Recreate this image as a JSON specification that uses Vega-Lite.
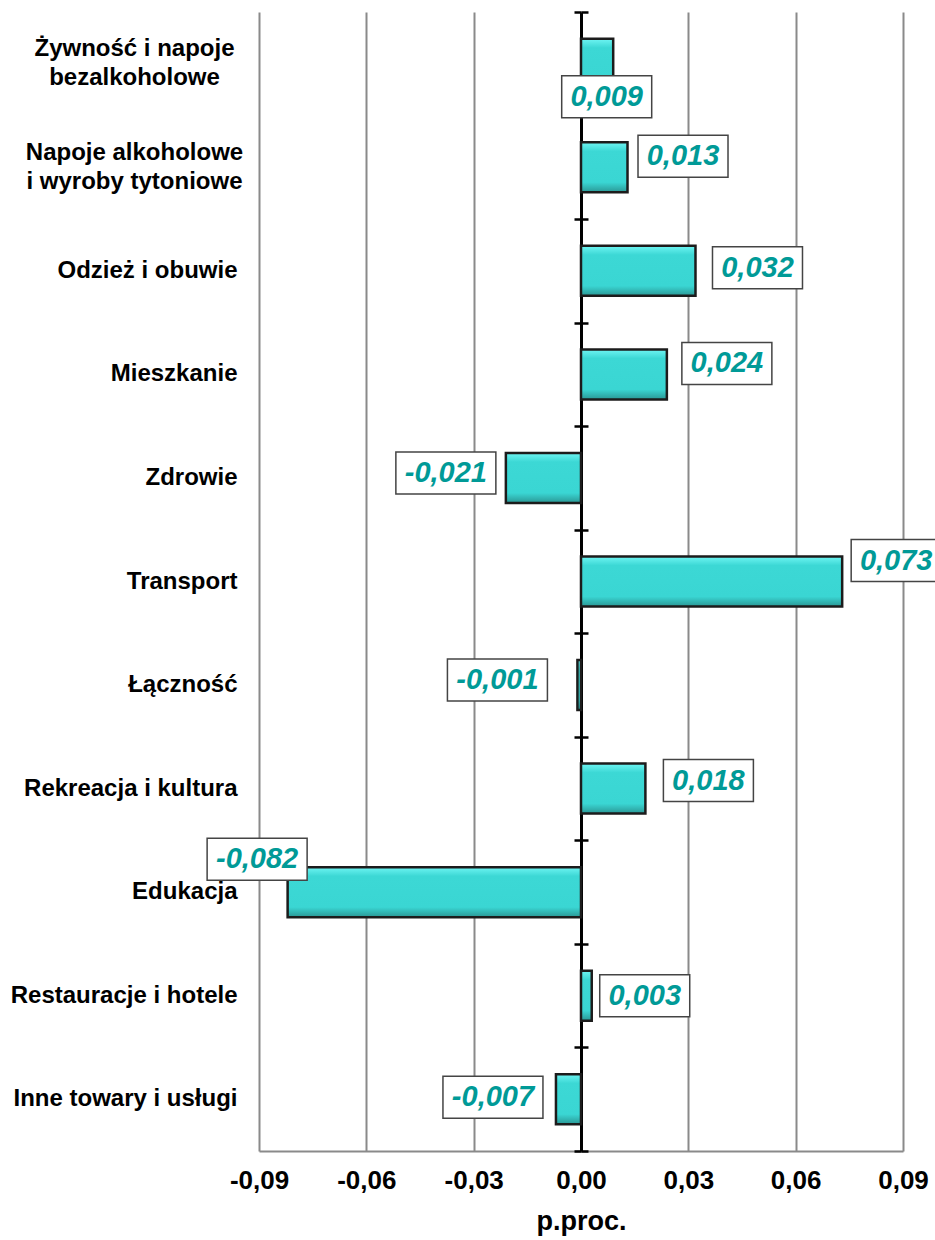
{
  "$schema": "https://vega.github.io/schema/vega-lite/v6.json",
  "width": 644,
  "height": 1139,
  "autosize": "none",
  "padding": {"left": 259, "top": 12, "right": 32, "bottom": 89},
  "background": "white",
  "config": {
    "view": {"stroke": null},
    "font": "Liberation Sans",
    "locale": {
      "number": {"decimal": ",", "thousands": " ", "grouping": [3], "currency": ["", " zł"], "minus": "-"}
    }
  },
  "params": [
    {"name": "cats", "value": ["Żywność i napoje|bezalkoholowe", "Napoje alkoholowe|i wyroby tytoniowe", "Odzież i obuwie", "Mieszkanie", "Zdrowie", "Transport", "Łączność", "Rekreacja i kultura", "Edukacja", "Restauracje i hotele", "Inne towary i usługi"]},
    {"name": "dxs", "value": [-6.5, 55.5, 62, 60, -60, 54, -80, 63, -30.5, 53, -63]},
    {"name": "dys", "value": [33, -11, -3, -11, -5, -21, -5, -8, -33, 0, -2]}
  ],
  "data": {
    "values": [
      {"kat": "Żywność i napoje|bezalkoholowe", "v": 0.009},
      {"kat": "Napoje alkoholowe|i wyroby tytoniowe", "v": 0.013},
      {"kat": "Odzież i obuwie", "v": 0.032},
      {"kat": "Mieszkanie", "v": 0.024},
      {"kat": "Zdrowie", "v": -0.021},
      {"kat": "Transport", "v": 0.073},
      {"kat": "Łączność", "v": -0.001},
      {"kat": "Rekreacja i kultura", "v": 0.018},
      {"kat": "Edukacja", "v": -0.082},
      {"kat": "Restauracje i hotele", "v": 0.003},
      {"kat": "Inne towary i usługi", "v": -0.007}
    ]
  },
  "resolve": {"axis": {"y": "independent", "x": "independent"}},
  "layer": [
    {
      "mark": {
        "type": "bar",
        "height": 50,
        "stroke": "#1c1c1c",
        "strokeWidth": 2.5,
        "fill": {
          "gradient": "linear", "x1": 0, "y1": 0, "x2": 0, "y2": 1,
          "stops": [
            {"offset": 0, "color": "#6ff5f3"},
            {"offset": 0.18, "color": "#3cd8d5"},
            {"offset": 0.8, "color": "#3ad6d3"},
            {"offset": 1, "color": "#2a9795"}
          ]
        }
      },
      "encoding": {
        "y": {
          "field": "kat", "type": "nominal", "sort": null,
          "scale": {"paddingInner": 0, "paddingOuter": 0},
          "axis": {
            "title": null, "domain": false, "ticks": false, "grid": false,
            "labelExpr": "split(datum.label, '|')",
            "labelFontSize": 24, "labelFontWeight": "bold", "labelColor": "black",
            "labelFont": "Liberation Sans", "labelLimit": 400,
            "labelLineHeight": 29,
            "labelAlign": {"condition": {"test": "indexof(datum.label, '|') >= 0", "value": "center"}, "value": "right"},
            "labelPadding": {"condition": {"test": "indexof(datum.label, '|') >= 0", "value": 125}, "value": 22},
            "labelOffset": {"condition": {"test": "indexof(datum.label, '|') >= 0", "value": -14.5}, "value": 0},
            "labelBaseline": "middle"
          }
        },
        "x": {
          "field": "v", "type": "quantitative",
          "scale": {"domain": [-0.09, 0.09], "nice": false, "zero": false},
          "axis": {
            "values": [-0.09, -0.06, -0.03, 0, 0.03, 0.06, 0.09],
            "format": ".2f",
            "grid": true,
            "gridColor": {"condition": {"test": "datum.value === 0", "value": "transparent"}, "value": "#8a8a8a"},
            "gridWidth": 2,
            "ticks": false,
            "domainColor": "#8a8a8a", "domainWidth": 2,
            "labelFontSize": 26, "labelFontWeight": "bold", "labelColor": "black",
            "labelFont": "Liberation Sans", "labelPadding": 16, "labelFlush": false,
            "labelOverlap": false,
            "title": "p.proc.", "titleFontSize": 27, "titleFontWeight": "bold",
            "titleColor": "black", "titleFont": "Liberation Sans", "titlePadding": 15
          }
        }
      }
    },
    {
      "mark": {
        "type": "bar",
        "height": 42,
        "fill": "white",
        "stroke": "#444",
        "strokeWidth": 1.5,
        "xOffset": {"expr": "dxs[indexof(cats, datum.kat)] - (datum.v < 0 ? 50 : 45)"},
        "x2Offset": {"expr": "dxs[indexof(cats, datum.kat)] + (datum.v < 0 ? 50 : 45)"},
        "yOffset": {"expr": "dys[indexof(cats, datum.kat)]"}
      },
      "encoding": {
        "y": {
          "field": "kat", "type": "nominal", "sort": null,
          "scale": {"paddingInner": 0, "paddingOuter": 0},
          "axis": {
            "orient": "left", "offset": -322, "title": null, "labels": false, "grid": false,
            "domain": true, "domainColor": "black", "domainWidth": 3,
            "ticks": true, "tickBand": "extent", "tickSize": 7, "tickColor": "black", "tickWidth": 2.5
          }
        },
        "x": {"field": "v", "type": "quantitative", "axis": null},
        "x2": {"field": "v"}
      }
    },
    {
      "mark": {
        "type": "text",
        "align": "center",
        "baseline": "middle",
        "fontSize": 29,
        "fontStyle": "italic",
        "fontWeight": "bold",
        "font": "Liberation Sans",
        "color": "#009a97",
        "xOffset": {"expr": "dxs[indexof(cats, datum.kat)]"},
        "yOffset": {"expr": "dys[indexof(cats, datum.kat)]"}
      },
      "encoding": {
        "y": {
          "field": "kat", "type": "nominal", "sort": null,
          "scale": {"paddingInner": 0, "paddingOuter": 0},
          "axis": {
            "orient": "right", "offset": -322, "title": null, "labels": false, "grid": false,
            "domain": false,
            "ticks": true, "tickBand": "extent", "tickSize": 7, "tickColor": "black", "tickWidth": 2.5
          }
        },
        "x": {"field": "v", "type": "quantitative", "axis": null},
        "text": {"field": "v", "type": "quantitative", "format": ".3f"}
      }
    }
  ]
}
